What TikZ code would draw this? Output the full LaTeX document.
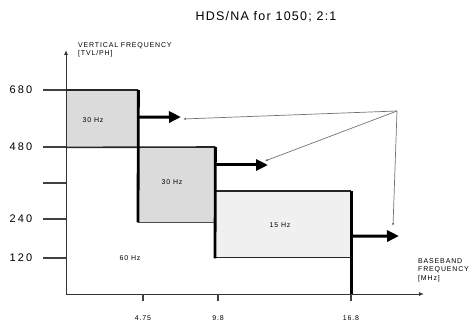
\documentclass[tikz,border=0pt]{standalone}
\usepackage{fontspec}
\setmainfont{Liberation Sans}
\usetikzlibrary{arrows.meta}

\newcommand{\tinytext}{\fontsize{7}{8.5}\selectfont\addfontfeature{LetterSpace=12}}
\newcommand{\bigtext}{\fontsize{11}{13}\selectfont\addfontfeature{LetterSpace=10}}

\begin{document}
\begin{tikzpicture}[
        x=1pt, y=-1pt,
        font=\tinytext,
        band/.style={
            fill=gray!28,
            inner sep=0pt,
            anchor=north west
        },
        edge/.style={line width=1.6pt, black!85},
        wall/.style={line width=2.8pt, black},
        tick/.style={line width=1.4pt, black!75},
        fat/.style={
            line width=3pt,
            -{Triangle[length=12pt,width=11pt]}
        },
        pointer/.style={
            line width=0.7pt, black!55,
            -{Latex[length=3pt,width=2.5pt]}
        },
        axis/.style={line width=1pt, black!80, -{Latex[length=5pt,width=4pt]}}
    ]

    \useasboundingbox (0,0) rectangle (476,323);

    \node[font=\fontsize{12.5}{14}\selectfont\addfontfeature{LetterSpace=10}] (title) at (266,17)
        {HDS/NA for 1050; 2:1};

    % bands of the spectrum
    \node[band, minimum width=72pt, minimum height=57pt] (b1) at (66,90) {};
    \node[band, minimum width=77pt, minimum height=75pt] (b2) at (138,147) {};
    \node[band, fill=gray!12, minimum width=136pt, minimum height=66pt] (b3) at (215,191) {};

    \node (l1) at (93,120) {30 Hz};
    \node (l2) at (172,182) {30 Hz};
    \node (l3) at (280,225) {15 Hz};
    \node (l4) at (130,258) {60 Hz};

    % axes
    \coordinate (origin) at (66,294);
    \coordinate (ytop) at (66,50);
    \coordinate (xend) at (424,294);
    \draw[axis] (origin) -- (ytop);
    \draw[axis] (origin) -- (xend);

    \node[anchor=west, align=left, inner sep=0pt] (ylab) at (78,50)
        {VERTICAL FREQUENCY\\{[TVL/PH]}};
    \node[anchor=west, align=left, inner sep=0pt] (xlab) at (418,270)
        {BASEBAND\\FREQUENCY\\{[MHz]}};

    \foreach \y/\lab in {90/680, 147/480, 183/, 219/240, 258/120} {
        \draw[tick] (43,\y) -- (66,\y);
        \node[font=\bigtext\addfontfeature{LetterSpace=20}] at (21,\y) {\lab};
    }
    \foreach \x/\lab in {143/4.75, 218/9.8, 351/16.8} {
        \draw[tick] (\x,294) -- (\x,301);
        \node at (\x,318) {\lab};
    }

    % band edges
    \draw[edge] (b1.north west) -- (b1.north east);
    \draw[edge] (b1.south west) -- (b2.north east);
    \draw[line width=0.8pt, black!70] (b2.south west) -- (b2.south east);
    \draw[edge] (b3.north west) -- (b3.north east);
    \draw[edge] (b3.south west) -- (b3.south east);
    \draw[wall] (b1.north east) -- (b2.south west);
    \draw[wall] (b2.north east) -- ([yshift=-1pt]b3.south west);
    \draw[wall] (b3.north east) -- (b3.east |- origin);

    % arrows
    \coordinate (a1) at (181,117);
    \coordinate (a2) at (268,165);
    \coordinate (a3) at (399,236);
    \draw[fat] ([yshift=1.5pt]b1.east) -- (a1);
    \draw[fat] ([yshift=-18pt]b2.north east) -- (a2);
    \draw[fat] ([yshift=-12pt]b3.east) -- (a3);

    \coordinate (hub) at (397,111);
    \coordinate (p1) at (183,119);
    \coordinate (p2) at (265,161);
    \coordinate (p3) at (393,226);
    \draw[pointer] (hub) -- (p1);
    \draw[pointer] (hub) -- (p2);
    \draw[pointer] (hub) -- (p3);

    \end{tikzpicture}
\end{document}
